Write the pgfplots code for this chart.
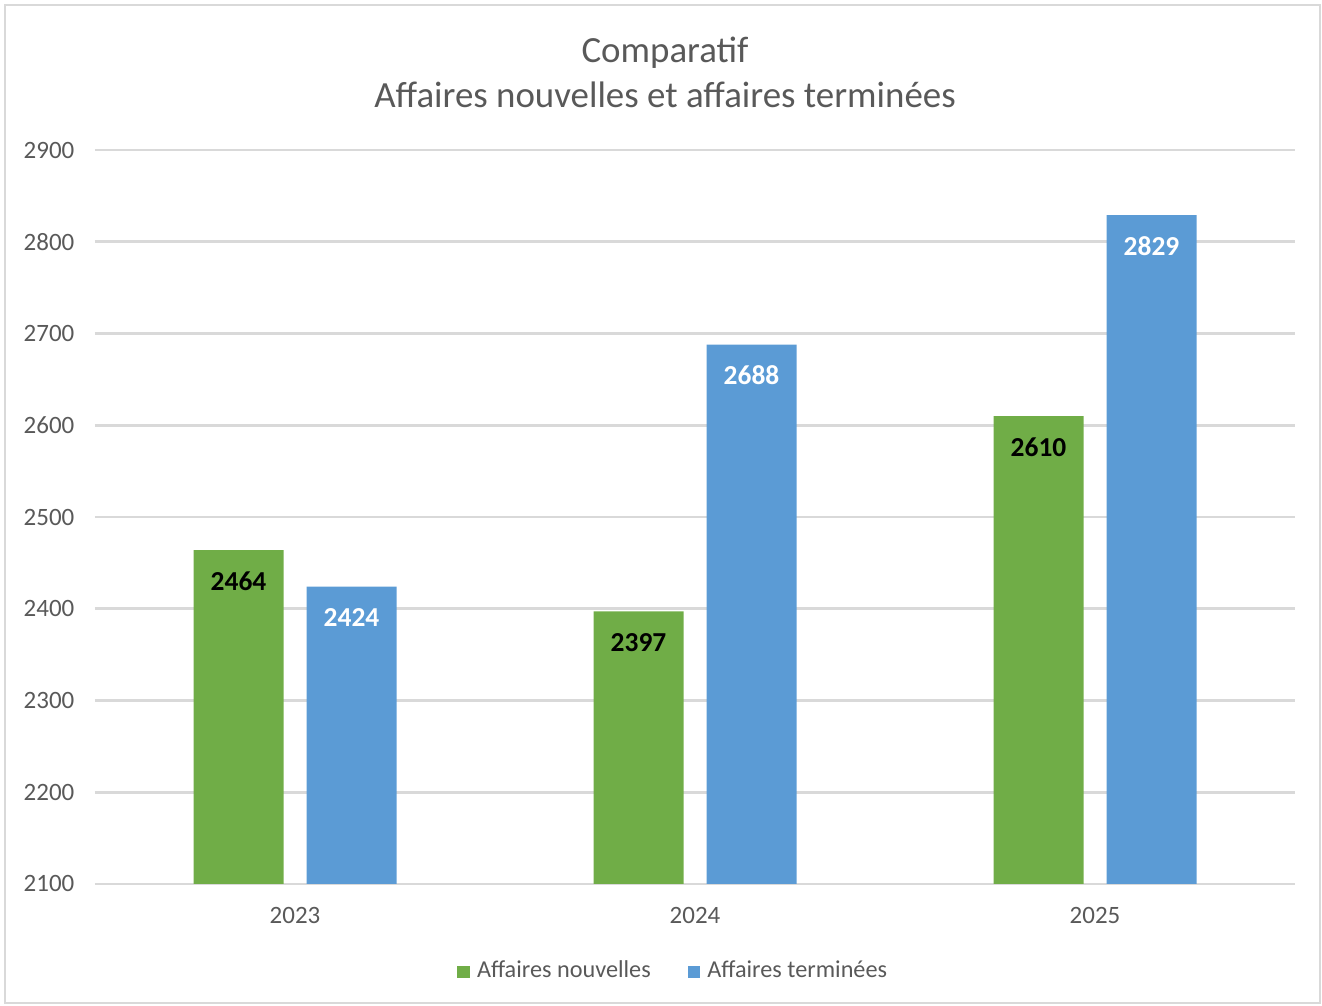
\documentclass[border=0pt]{standalone}
\usepackage{pgfplots}
\pgfplotsset{compat=1.18}
\usepackage{fontspec}
\setmainfont{Carlito}
\definecolor{vert}{HTML}{70AD47}
\definecolor{bleu}{HTML}{5B9BD5}
\definecolor{gristexte}{HTML}{595959}
\definecolor{grille}{HTML}{D9D9D9}
\begin{document}
\begin{tikzpicture}
\begin{axis}[
  name=ax,
  scale only axis, width=120mm, height=73.4mm,
  xmin=-0.5, xmax=2.5, ymin=2100, ymax=2900,
  ytick={2100,2200,...,2900},
  xtick={0,1,2}, xticklabels={2023,2024,2025},
  ymajorgrids, grid style={grille, line width=0.8pt},
  axis line style={draw=none},
  major tick length=0pt,
  /pgf/number format/assume math mode=true,
  /pgf/number format/1000 sep={},
  ticklabel style={font=\fontsize{7.1}{8}\selectfont, text=gristexte, inner sep=0pt},
  yticklabel style={xshift=-2mm},
  xticklabel style={yshift=-2.3mm},
  ybar, bar width=9mm,
  nodes near coords,
  every node near coord/.append style={font=\bfseries\fontsize{7.8}{9}\selectfont, anchor=center, yshift=-3.1mm},
  legend style={at={(0.484,-0.12)}, anchor=center, draw=none, fill=none,
    legend columns=2, font=\fontsize{6.9}{8}\selectfont, text=gristexte,
    /tikz/every even column/.append style={column sep=3mm}},
  legend image code/.code={\fill (0mm,-0.6mm) rectangle (1.25mm,0.65mm);},
]
\addplot[fill=vert, draw=none, bar shift=-5.65mm, every node near coord/.append style={text=black}]
  coordinates {(0,2464) (1,2397) (2,2610)};
\addlegendentry{Affaires nouvelles}
\addplot[fill=bleu, draw=none, bar shift=5.65mm, every node near coord/.append style={text=white}]
  coordinates {(0,2424) (1,2688) (2,2829)};
\addlegendentry{Affaires terminées}
\end{axis}
\node[text=gristexte, font=\fontsize{10.5}{13}\selectfont, align=center] at ([xshift=-3mm,yshift=7.75mm]ax.north)
  {Comparatif\\Affaires nouvelles et affaires terminées};
\draw[grille, line width=0.6pt] ([xshift=-9mm,yshift=-11.9mm]ax.south west) rectangle ([xshift=2.5mm,yshift=14.5mm]ax.north east);
\pgfresetboundingbox
\path ([xshift=-9.5mm,yshift=-12.2mm]ax.south west) rectangle ([xshift=2.7mm,yshift=15mm]ax.north east);
\end{tikzpicture}
\end{document}
